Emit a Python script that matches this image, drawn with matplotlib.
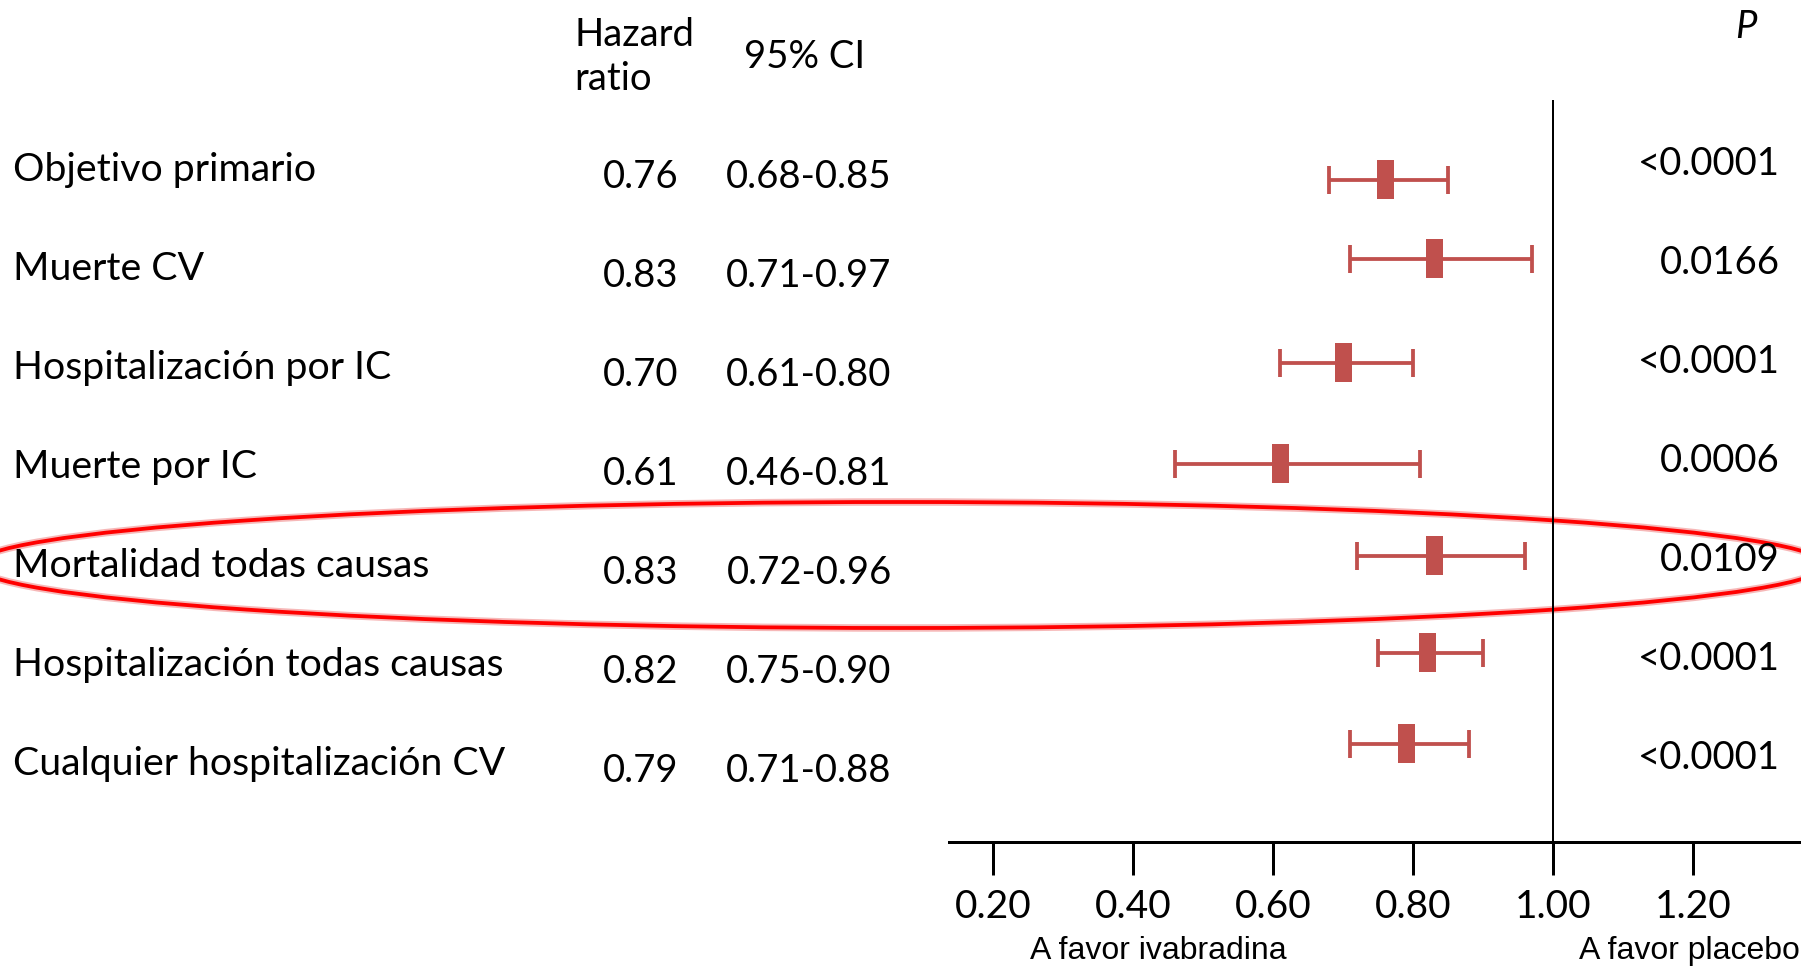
import numpy as np
import matplotlib
matplotlib.use('Agg')
import matplotlib.pyplot as plt
from matplotlib.patches import Ellipse

# datos
desenlaces = [
    'Objetivo primario',
    'Muerte CV',
    'Hospitalización por IC',
    'Muerte por IC',
    'Mortalidad todas causas',
    'Hospitalización todas causas',
    'Cualquier hospitalización CV',
]
hazard_ratio = [0.76, 0.83, 0.70, 0.61, 0.83, 0.82, 0.79]
ic_inferior = [0.68, 0.71, 0.61, 0.46, 0.72, 0.75, 0.71]
ic_superior = [0.85, 0.97, 0.80, 0.81, 0.96, 0.90, 0.88]
valores_p = ['<0.0001', '0.0166', '<0.0001', '0.0006', '0.0109', '<0.0001', '<0.0001']
marcas_eje = [0.20, 0.40, 0.60, 0.80, 1.00, 1.20]
fila_resaltada = 'Mortalidad todas causas'

# posicion vertical (pixeles desde arriba) de cada marcador
posicion_marcador = [180, 259, 363, 464, 556, 653, 744]

ANCHO, ALTO = 1801, 966
COLOR_MARCA = '#C0504D'
FUENTE = ['Lato', 'DejaVu Sans']
FUENTE_ESTRECHA = ['Liberation Sans Narrow', 'Liberation Sans', 'DejaVu Sans']


def px(v):
    # pixeles a puntos con dpi 100
    return v * 0.72


def dibujar_tabla(fondo):
    primera_fila = 170
    paso_fila = 99
    for i, nombre in enumerate(desenlaces):
        y = primera_fila + paso_fila * i
        fondo.text(13, y, nombre, fontsize=28.3, family=FUENTE, va='center', ha='left')
        fondo.text(641, y + 7, f'{hazard_ratio[i]:.2f}', fontsize=27.5, family=FUENTE,
                   va='center', ha='center')
        fondo.text(809, y + 7, f'{ic_inferior[i]:.2f}-{ic_superior[i]:.2f}', fontsize=27.5,
                   family=FUENTE, va='center', ha='center')
        fondo.text(1780, y - 6, valores_p[i], fontsize=27.5, family=FUENTE, va='center', ha='right')

    fondo.text(574, 57, 'Hazard\nratio', fontsize=27.5, family=FUENTE, va='center', ha='left',
               linespacing=1.3)
    fondo.text(805, 57, '95% CI', fontsize=27.5, family=FUENTE, va='center', ha='center')
    fondo.text(1746, 27, 'P', fontsize=27.5, family=FUENTE, style='italic', va='center', ha='center')

    fondo.text(1158, 951, 'A favor ivabradina', fontsize=23, family=FUENTE_ESTRECHA,
               va='center', ha='center')
    fondo.text(1689, 951, 'A favor placebo', fontsize=23, family=FUENTE_ESTRECHA,
               va='center', ha='center')

    # elipse roja alrededor de la fila resaltada
    idx = desenlaces.index(fila_resaltada)
    centro_y = primera_fila + paso_fila * idx - 1
    brillo = Ellipse((900, centro_y), 1850, 126, fill=False, edgecolor='#f4a6a6',
                     linewidth=px(7.5), alpha=0.8)
    elipse = Ellipse((900, centro_y), 1850, 126, fill=False, edgecolor='#ff0000',
                     linewidth=px(3.8))
    fondo.add_patch(brillo)
    fondo.add_patch(elipse)


def dibujar_forest(fig):
    izq, der, arriba, abajo = 949, 1801, 100, 842
    ax = fig.add_axes([izq / ANCHO, 1 - abajo / ALTO, (der - izq) / ANCHO, (abajo - arriba) / ALTO])
    ax.patch.set_alpha(0)

    px_por_unidad = 700.0
    x_min = 0.20 - (993 - izq) / px_por_unidad
    x_max = 1.00 + (der - 1553) / px_por_unidad
    ax.set_xlim(x_min, x_max)
    ax.set_ylim(abajo, arriba)

    hr = np.array(hazard_ratio)
    err = [hr - np.array(ic_inferior), np.array(ic_superior) - hr]
    ax.errorbar(hr, posicion_marcador, xerr=err, fmt='none', ecolor=COLOR_MARCA,
                elinewidth=px(3.8), capsize=px(14), capthick=px(3.8), zorder=2)
    ancho_caja = 17 / px_por_unidad
    ax.barh(posicion_marcador, ancho_caja, left=hr - ancho_caja / 2, height=39,
            color=COLOR_MARCA, zorder=3)

    ax.axvline(1.0, color='black', linewidth=px(2), zorder=1)

    for lado in ['top', 'right', 'left']:
        ax.spines[lado].set_visible(False)
    ax.spines['bottom'].set_linewidth(px(3))
    ax.set_yticks([])
    ax.set_xticks(marcas_eje)
    ax.set_xticklabels([f'{m:.2f}' for m in marcas_eje], fontsize=28, family=FUENTE)
    ax.tick_params(axis='x', direction='out', length=px(33), width=px(3), pad=px(14))
    return ax


def main():
    fig = plt.figure(figsize=(ANCHO / 100, ALTO / 100), dpi=100)
    fondo = fig.add_axes([0, 0, 1, 1])
    fondo.set_xlim(0, ANCHO)
    fondo.set_ylim(ALTO, 0)
    fondo.axis('off')

    dibujar_tabla(fondo)
    dibujar_forest(fig)

    fig.savefig('out.png', dpi=100)
    plt.close(fig)


if __name__ == '__main__':
    main()
